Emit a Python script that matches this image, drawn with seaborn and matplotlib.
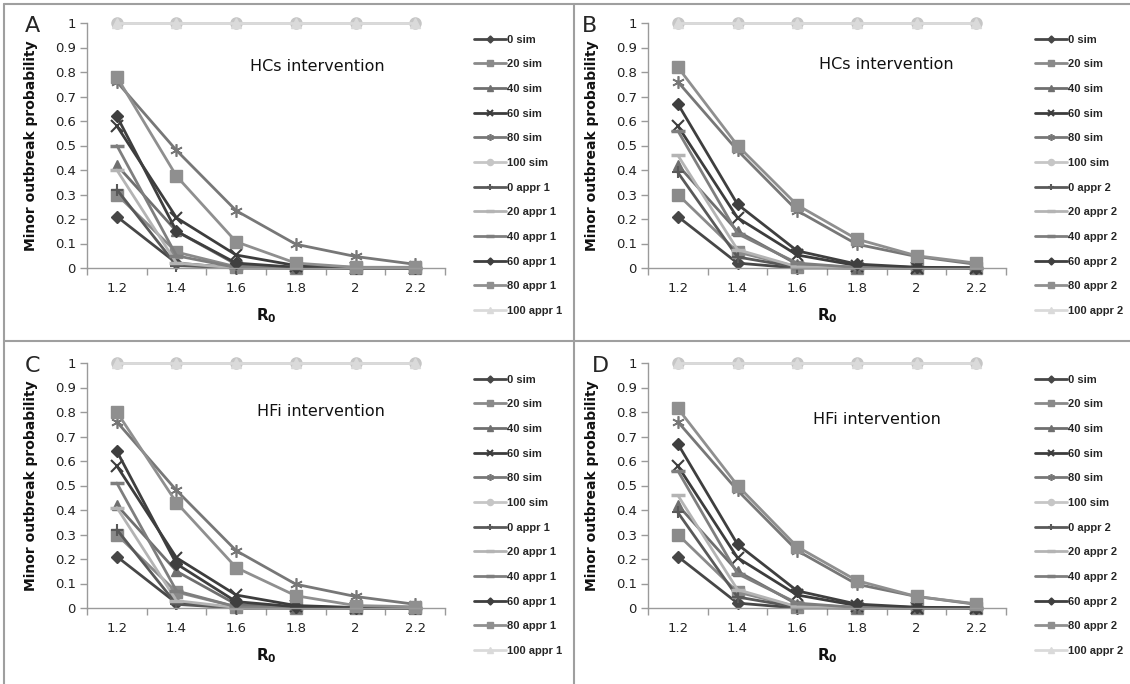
import matplotlib
matplotlib.use('Agg')
import matplotlib.pyplot as plt
import seaborn as sns
from matplotlib.lines import Line2D


r0 = [1.2, 1.4, 1.6, 1.8, 2.0, 2.2]
r0_labels = ['1.2', '1.4', '1.6', '1.8', '2', '2.2']
levels = ['0', '20', '40', '60', '80', '100']

# simulations (same in every panel)
sim_0 = [0.21, 0.02, 0.0, 0.0, 0.0, 0.0]
sim_20 = [0.30, 0.065, 0.005, 0.0, 0.0, 0.0]
sim_40 = [0.42, 0.15, 0.015, 0.002, 0.0, 0.0]
sim_60 = [0.58, 0.205, 0.053, 0.01, 0.002, 0.0]
sim_80 = [0.76, 0.48, 0.234, 0.097, 0.047, 0.015]
sim_100 = [1.0, 1.0, 1.0, 1.0, 1.0, 1.0]

# A: HCs intervention, approximation 1
hcs_appr1_0 = [0.32, 0.01, 0.0, 0.0, 0.0, 0.0]
hcs_appr1_20 = [0.40, 0.02, 0.0, 0.0, 0.0, 0.0]
hcs_appr1_40 = [0.50, 0.05, 0.002, 0.0, 0.0, 0.0]
hcs_appr1_60 = [0.62, 0.15, 0.02, 0.003, 0.0, 0.0]
hcs_appr1_80 = [0.78, 0.375, 0.107, 0.02, 0.003, 0.003]
hcs_appr1_100 = [1.0, 1.0, 1.0, 1.0, 1.0, 1.0]

# B: HCs intervention, approximation 2
hcs_appr2_0 = [0.39, 0.045, 0.003, 0.0, 0.0, 0.0]
hcs_appr2_20 = [0.46, 0.075, 0.005, 0.0, 0.0, 0.0]
hcs_appr2_40 = [0.56, 0.14, 0.02, 0.002, 0.0, 0.0]
hcs_appr2_60 = [0.67, 0.26, 0.07, 0.016, 0.003, 0.001]
hcs_appr2_80 = [0.82, 0.50, 0.257, 0.118, 0.05, 0.02]
hcs_appr2_100 = [1.0, 1.0, 1.0, 1.0, 1.0, 1.0]

# C: HFi intervention, approximation 1
hfi_appr1_0 = [0.32, 0.015, 0.0, 0.0, 0.0, 0.0]
hfi_appr1_20 = [0.41, 0.03, 0.002, 0.0, 0.0, 0.0]
hfi_appr1_40 = [0.51, 0.07, 0.005, 0.0, 0.0, 0.0]
hfi_appr1_60 = [0.64, 0.18, 0.026, 0.005, 0.001, 0.0]
hfi_appr1_80 = [0.80, 0.43, 0.165, 0.05, 0.01, 0.005]
hfi_appr1_100 = [1.0, 1.0, 1.0, 1.0, 1.0, 1.0]

# D: HFi intervention, approximation 2
hfi_appr2_0 = [0.39, 0.045, 0.003, 0.0, 0.0, 0.0]
hfi_appr2_20 = [0.46, 0.075, 0.005, 0.0, 0.0, 0.0]
hfi_appr2_40 = [0.56, 0.14, 0.02, 0.002, 0.0, 0.0]
hfi_appr2_60 = [0.67, 0.26, 0.07, 0.016, 0.003, 0.001]
hfi_appr2_80 = [0.815, 0.50, 0.25, 0.112, 0.047, 0.017]
hfi_appr2_100 = [1.0, 1.0, 1.0, 1.0, 1.0, 1.0]

sims = [sim_0, sim_20, sim_40, sim_60, sim_80, sim_100]
hcs_appr1 = [hcs_appr1_0, hcs_appr1_20, hcs_appr1_40, hcs_appr1_60, hcs_appr1_80, hcs_appr1_100]
hcs_appr2 = [hcs_appr2_0, hcs_appr2_20, hcs_appr2_40, hcs_appr2_60, hcs_appr2_80, hcs_appr2_100]
hfi_appr1 = [hfi_appr1_0, hfi_appr1_20, hfi_appr1_40, hfi_appr1_60, hfi_appr1_80, hfi_appr1_100]
hfi_appr2 = [hfi_appr2_0, hfi_appr2_20, hfi_appr2_40, hfi_appr2_60, hfi_appr2_80, hfi_appr2_100]

# marker, colour, marker size, edge width for the 12 series
sim_styles = [('D', '#474747', 6.5, 1), ('s', '#8a8a8a', 8, 1), ('^', '#6f6f6f', 7.5, 1),
              ('x', '#3d3d3d', 8, 1.5), ((6, 2, 0), '#777777', 9, 1.2), ('o', '#c6c6c6', 8, 1)]
appr_styles = [('+', '#595959', 9, 1.5), ('_', '#b4b4b4', 10, 2.5), ('_', '#7e7e7e', 10, 2.5),
               ('D', '#3f3f3f', 6.5, 1), ('s', '#8f8f8f', 8, 1), ('^', '#dadada', 7.5, 1)]

sns.set_style('white')
plt.rcParams['font.family'] = ['DejaVu Sans']

W, H = 1130, 684
fig = plt.figure(figsize=(W / 100, H / 100), dpi=100)

panels = [
    ('A', 'HCs intervention', hcs_appr1, '1', (87, 268), 0.455, 0.824),
    ('B', 'HCs intervention', hcs_appr2, '2', (648, 268), 0.479, 0.83),
    ('C', 'HFi intervention', hfi_appr1, '1', (87, 608), 0.475, 0.80),
    ('D', 'HFi intervention', hfi_appr2, '2', (648, 608), 0.462, 0.77),
]

for letter, title, appr, appr_no, (px, py), tx, ty in panels:
    ax = fig.add_axes([px / W, 1 - py / H, 358 / W, 245 / H])
    for vals, (m, c, ms, mw), lvl in zip(sims, sim_styles, levels):
        sns.lineplot(x=r0, y=vals, ax=ax, color=c, marker=m, markersize=ms, mew=mw,
                     mec=c, mfc=c, linewidth=2, clip_on=False, errorbar=None,
                     label=f'{lvl} sim')
    for vals, (m, c, ms, mw), lvl in zip(appr, appr_styles, levels):
        sns.lineplot(x=r0, y=vals, ax=ax, color=c, marker=m, markersize=ms, mew=mw,
                     mec=c, mfc=c, linewidth=2, clip_on=False, errorbar=None,
                     label=f'{lvl} appr {appr_no}')

    ax.set_xlim(1.1, 2.3)
    ax.set_ylim(0, 1)
    ax.set_xticks(r0)
    ax.set_xticklabels(r0_labels)
    ax.set_xticks([1.1, 1.3, 1.5, 1.7, 1.9, 2.1, 2.3], minor=True)
    yt = [0, 0.1, 0.2, 0.3, 0.4, 0.5, 0.6, 0.7, 0.8, 0.9, 1]
    ax.set_yticks(yt)
    ax.set_yticklabels(['0' if v == 0 else ('1' if v == 1 else f'{v:.1f}') for v in yt])
    ax.tick_params(axis='x', which='major', length=0, pad=10, labelsize=9.5, colors='#222222')
    ax.tick_params(axis='x', which='minor', length=5, width=1, direction='out', color='#9a9a9a')
    ax.tick_params(axis='y', length=5, width=1, direction='out', color='#9a9a9a',
                   labelsize=9.5, labelcolor='#222222', pad=3)
    ax.xaxis.set_ticks_position('bottom')
    ax.yaxis.set_ticks_position('left')
    for s in ['top', 'right']:
        ax.spines[s].set_visible(False)
    for s in ['left', 'bottom']:
        ax.spines[s].set_color('#9a9a9a')
        ax.spines[s].set_linewidth(1)

    ax.set_ylabel('Minor outbreak probability', fontsize=10, fontweight='bold', color='#111111')
    ax.yaxis.set_label_coords(-0.137, 0.5)
    ax.set_xlabel(r'$\mathbf{R_0}$', fontsize=11, color='#111111')
    ax.xaxis.set_label_coords(0.5, -0.155)

    ax.text(tx, ty, title, transform=ax.transAxes, fontsize=11.5, va='center', ha='left',
            color='#111111')

    leg_x = (px - 87 + 468) / W
    leg_top = 1 - (py - 268 + 29) / H
    ax.legend(loc='upper left', bbox_to_anchor=(leg_x, leg_top), bbox_transform=fig.transFigure,
              frameon=False, borderpad=0, handlelength=2.9, handletextpad=0.15,
              labelspacing=1.32, markerscale=0.55,
              prop={'family': 'Liberation Sans', 'weight': 'bold', 'size': 8})

    lx = (px - 87 + 25) / W if letter in 'AC' else (px - 648 + 582 + (10 if letter == 'D' else 0)) / W
    fig.text(lx, 1 - (py - 268 + 26) / H, letter, fontsize=16, va='center', ha='left')

# panel frames
frame = dict(color='#9f9f9f', linewidth=1.5, transform=fig.transFigure)
fig.add_artist(Line2D([4 / W, 1], [1 - 4 / H, 1 - 4 / H], **frame))
fig.add_artist(Line2D([4 / W, 4 / W], [0, 1 - 4 / H], **frame))
fig.add_artist(Line2D([574 / W, 574 / W], [0, 1 - 4 / H], **frame))
fig.add_artist(Line2D([4 / W, 1], [1 - 341 / H, 1 - 341 / H], **frame))

fig.savefig('out.png', dpi=100)
